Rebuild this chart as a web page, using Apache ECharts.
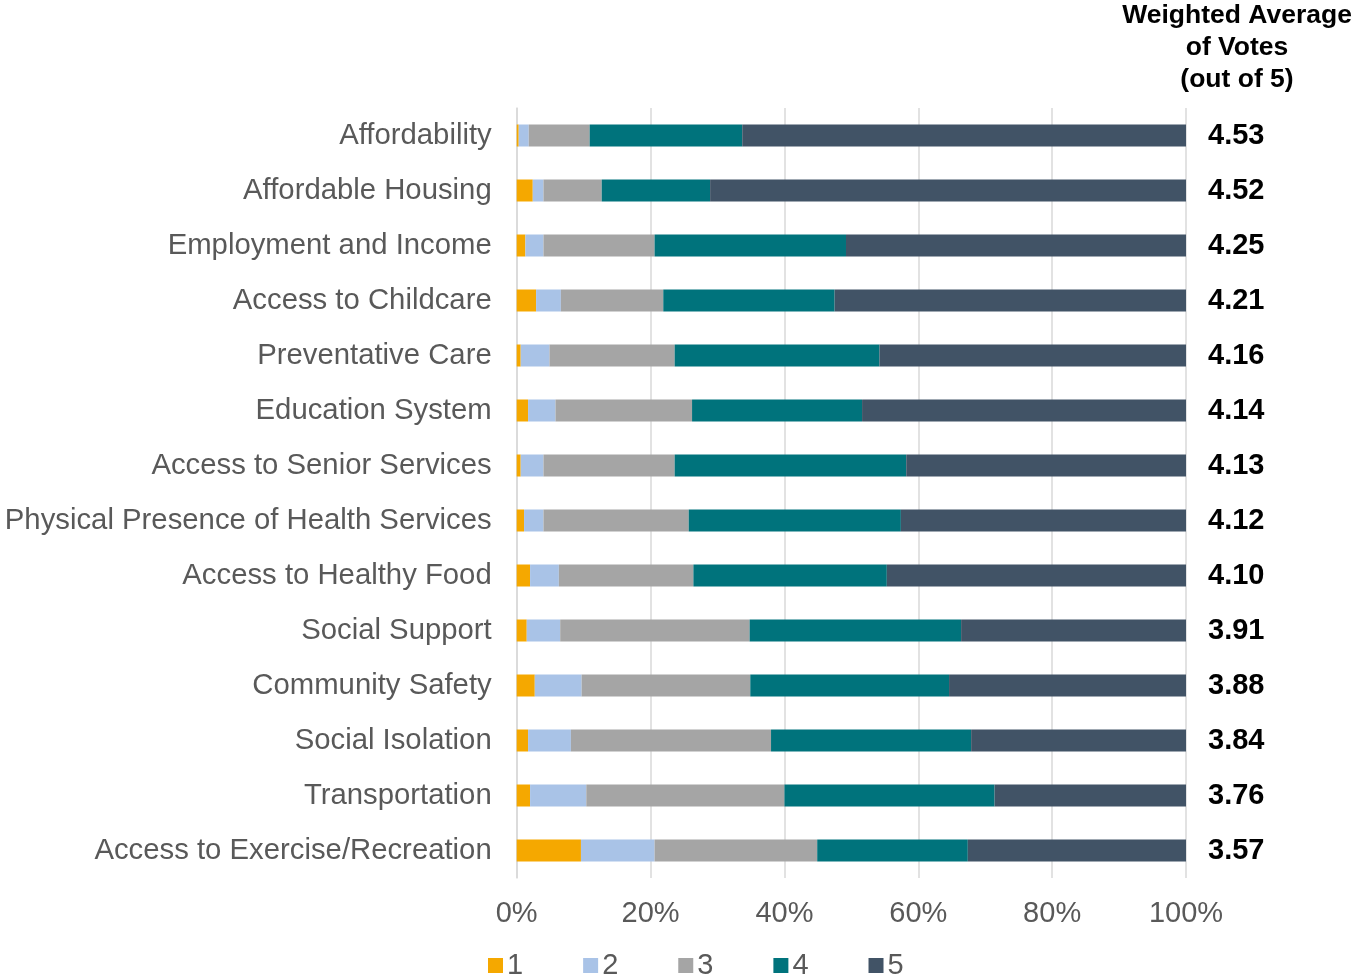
<!DOCTYPE html>
<html>
<head>
<meta charset="utf-8">
<script src="https://cdn.jsdelivr.net/npm/echarts@6/dist/echarts.min.js"></script>
<style>html,body{margin:0;padding:0;background:#fff}#c{width:1353px;height:980px}</style>
</head>
<body>
<div id="c"></div>
<script>
const categories = ["Affordability","Affordable Housing","Employment and Income","Access to Childcare","Preventative Care","Education System","Access to Senior Services","Physical Presence of Health Services","Access to Healthy Food","Social Support","Community Safety","Social Isolation","Transportation","Access to Exercise/Recreation"];
const vote1 = [0.3, 2.4, 1.3, 2.9, 0.6, 1.7, 0.6, 1.1, 2.0, 1.5, 2.7, 1.7, 2.0, 9.6];
const vote2 = [1.5, 1.6, 2.7, 3.7, 4.3, 4.1, 3.4, 2.9, 4.3, 5.0, 7.0, 6.4, 8.4, 11.0];
const vote3 = [9.1, 8.7, 16.6, 15.3, 18.7, 20.4, 19.6, 21.7, 20.1, 28.3, 25.2, 29.9, 29.6, 24.3];
const vote4 = [22.8, 16.2, 28.6, 25.6, 30.6, 25.4, 34.6, 31.7, 28.9, 31.6, 29.7, 29.9, 31.4, 22.5];
const vote5 = [66.3, 71.1, 50.8, 52.5, 45.8, 48.4, 41.8, 42.6, 44.7, 33.6, 35.4, 32.1, 28.6, 32.6];
const weightedAvg = ["4.53","4.52","4.25","4.21","4.16","4.14","4.13","4.12","4.10","3.91","3.88","3.84","3.76","3.57"];
const seriesNames = ["1","2","3","4","5"];
const colors = ["#F5A800","#A9C3E7","#A5A5A5","#00737C","#415366"];
const xTicks = [0,20,40,60,80,100];

const font = "'Liberation Sans', Arial, sans-serif";
const chart = echarts.init(document.getElementById('c'), null, {renderer:'canvas'});
const dataSets = [vote1, vote2, vote3, vote4, vote5];
chart.setOption({
  animation: false,
  textStyle: {fontFamily: font},
  title: {
    text: "Weighted Average\nof Votes\n(out of 5)",
    left: 1232, top: -5, textAlign: 'center',
    textStyle: {fontFamily: font, fontSize: 26.5, fontWeight: 'bold', color: '#000', lineHeight: 32}
  },
  legend: {
    left: 483, top: 946, itemWidth: 15, itemHeight: 15, itemGap: 60,
    icon: 'rect',
    textStyle: {fontFamily: font, fontSize: 29, color: '#595959', padding: [0,0,0,-1]},
    data: seriesNames
  },
  grid: {left: 516.7, right: 167, top: 108, bottom: 102, containLabel: false},
  xAxis: {
    type: 'value', min: 0, max: 100, interval: 20,
    axisLabel: {formatter: v => xTicks.includes(v) ? v + '%' : '', fontFamily: font, fontSize: 29, color: '#595959', margin: 21},
    splitLine: {lineStyle: {color: '#D9D9D9', width: 1.5}},
    axisLine: {show: false}, axisTick: {show: false}
  },
  yAxis: [{
    type: 'category', data: categories, inverse: true,
    axisLabel: {fontFamily: font, fontSize: 29.3, color: '#595959', margin: 25},
    axisLine: {show: true, lineStyle: {color: '#D9D9D9', width: 1.5}},
    axisTick: {show: false}
  },{
    type: 'category', data: weightedAvg, inverse: true, position: 'right',
    axisLabel: {fontFamily: font, fontSize: 29, fontWeight: 'bold', color: '#000', margin: 22, padding: [0,0,4,0]},
    axisLine: {show: false}, axisTick: {show: false}
  }],
  series: seriesNames.map((n, i) => ({
    name: n, type: 'bar', stack: 'total', barWidth: 22,
    yAxisIndex: 0,
    itemStyle: {color: colors[i]},
    data: dataSets[i]
  }))
});
</script>
</body>
</html>
